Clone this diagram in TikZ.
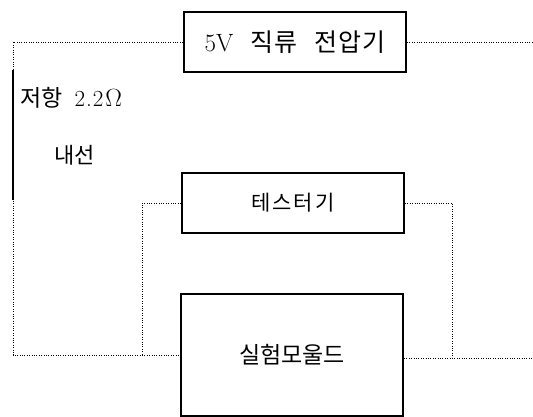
\documentclass[tikz,border=0pt]{standalone}
\usepackage{fontspec}
\newfontfamily\kr{Noto Sans CJK KR}
\begin{document}
\begin{tikzpicture}[x=1pt,y=-1pt,
  box/.style={draw,line width=2pt,minimum width=222pt,inner sep=0pt},
  wire/.style={line width=0.7pt,dash pattern=on 0.8pt off 1.6pt},
  res/.style={line width=2pt},
  lbl/.style={inner sep=0pt,anchor=west}]
\useasboundingbox (0,0) rectangle (533,417);
\node[box,minimum height=60pt] (psu) at (295,42)
  {\fontsize{25}{29}\selectfont 5V\hspace{17pt}{\kr 직\kern1pt 류}\hspace{17pt}{\kr 전\kern1pt 압\kern1pt 기}};
\node[box,minimum height=60pt] (tester) at (293,203)
  {\kr\fontsize{21}{25}\selectfont 테\hspace{2pt}스\hspace{2pt}터\hspace{2pt}기};
\node[box,minimum height=122pt] (module) at (292,355)
  {\kr\fontsize{23}{27}\selectfont 실험모울드};
\node[lbl] (rlabel) at (20,98)
  {\fontsize{23}{27}\selectfont{\kr 저항}\hspace{12pt}2\kern1pt.\kern1pt2\kern2pt$\Omega$};
\node[lbl] (wlabel) at (54,155) {\kr\fontsize{22}{26}\selectfont 내선};
\coordinate (tl) at (13,42);
\coordinate (bl) at (13,355);
\coordinate (tj) at (142,355);
\coordinate (tr) at (452,203);
\coordinate (rj) at (452,358);
\coordinate (pe) at (533,42);
\coordinate (me) at (533,358);
\coordinate (ra) at (13,70);
\coordinate (rb) at (13,200);
\draw[wire] (psu.west) -- (tl) -- (bl) -- (module.west);
\draw[wire] (tester.west) -| (tj);
\draw[wire] (tester.east) -- (tr) -- (rj);
\draw[wire] (module.east |- rj) -- (me);
\draw[wire] (psu.east) -- (pe);
\draw[res] (ra) -- (rb);
\end{tikzpicture}
\end{document}
